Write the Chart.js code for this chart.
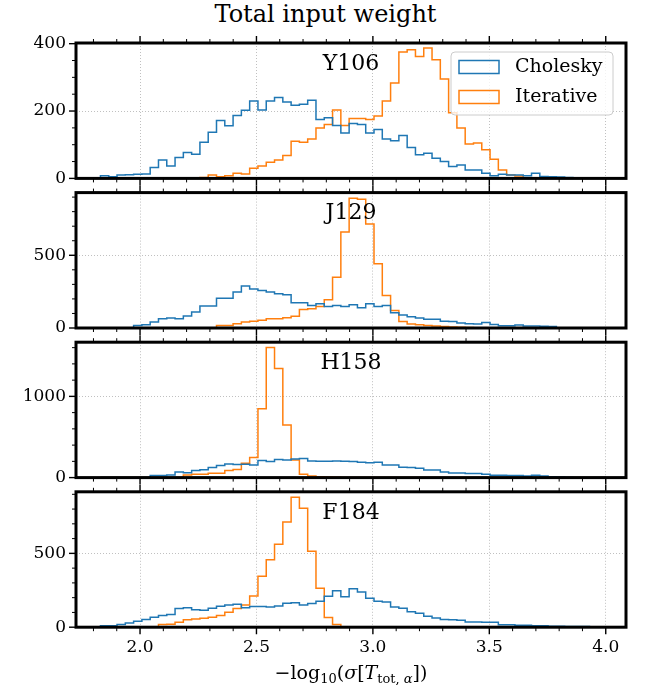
<!DOCTYPE html>
<html>
<head>
<meta charset="utf-8">
<script src="https://cdn.jsdelivr.net/npm/chart.js@4.4.1/dist/chart.umd.min.js"></script>
<style>
  body { margin: 0; background: #fff; width: 651px; height: 685px; position: relative; overflow: hidden; font-family: "DejaVu Serif", serif; }
  canvas { position: absolute; left: 0; }
  #title { position: absolute; left: 0; top: 0; width: 651px; text-align: center; font-size: 24px; line-height: 28px; }
  #xlabel { position: absolute; left: 76px; width: 550px; top: 661px; text-align: center; font-size: 19px; line-height: 22px; }
  #xlabel sub { font-size: 13px; vertical-align: -4px; line-height: 0; }
</style>
</head>
<body>
<div id="title">Total input weight</div>
<canvas id="p0"></canvas>
<canvas id="p1"></canvas>
<canvas id="p2"></canvas>
<canvas id="p3"></canvas>
<div id="xlabel">&minus;log<sub>10</sub>(<i>&sigma;</i>[<i>T</i><sub>tot, <i>&alpha;</i></sub>])</div>

<script>
// histogram bins shared by every panel
const binStart = 1.83;
const binWidth = 0.0356;

const panelNames = ["Y106", "J129", "H158", "F184"];
const seriesNames = ["Cholesky", "Iterative"];

const xTicks = [2.0, 2.5, 3.0, 3.5, 4.0];
const yTicksY106 = [0, 200, 400];
const yTicksJ129 = [0, 500];
const yTicksH158 = [0, 1000];
const yTicksF184 = [0, 500];

const choleskyY106 = [8,5,10,11,12,13,32,55,37,62, 77,72,107,137,172,156,187,202,230,203,
  230,240,227,217,220,232,175,180,157,135, 163,160,135,145,117,112,127,92,70,75,
  60,50,35,40,25,25,15,8,12,10, 10,8,15,6,5,4,3,2,2,1,1];
const iterativeY106 = [0,0,0,0,0,0,0,1,1,2, 2,2,3,10,5,8,15,13,30,37,
  48,55,68,110,107,117,150,160,203,157, 178,178,175,185,230,283,375,382,362,387,
  352,295,195,150,102,105,85,57,25,10, 7,0,0,0,0,0,0,0,0,0,0];

const choleskyJ129 = [0,0,0,0,18,23,41,64,68,64, 82,110,151,151,205,205,247,288,269,258,
  247,235,228,174,174,155,167,148,155,148, 160,139,167,148,155,105,90,77,68,60,
  60,46,44,34,30,28,37,24,15,15, 20,14,13,12,11,0,0,0,0,0,0];
const iterativeJ129 = [0,0,0,0,0,0,0,0,0,0, 0,0,0,0,18,18,30,41,46,53,
  64,64,71,80,127,132,148,195,349,660, 892,886,715,441,224,121,45,28,23,18,
  14,10,7,5,3,0,0,0,0,0, 0,0,0,0,0,0,0,0,0,0,0];

const choleskyH158 = [0,0,0,0,0,0,25,25,33,70, 61,86,98,123,148,168,160,164,155,209,
  197,223,217,228,234,205,200,200,205,201, 197,189,184,189,156,156,127,123,115,94,
  94,70,57,57,49,49,41,29,29,25, 25,20,29,20,12,8,4,0,0,0,0];
const iterativeH158 = [0,0,0,0,0,0,0,0,0,0, 33,41,41,53,53,86,100,176,248,848,
  1602,1344,647,217,41,20,10,6,4,0, 0,0,0,0,0,0,0,0,0,0,
  0,0,0,0,0,0,0,0,0,0, 0,0,0,0,0,0,0,0,0,0,0];

const choleskyF184 = [9,9,18,29,41,52,68,79,86,126, 131,119,114,128,142,150,156,131,140,140,
  137,143,162,166,150,161,176,209,247,207, 261,238,196,176,170,137,128,104,95,74,
  63,52,50,47,36,36,34,34,16,16, 14,14,9,9,7,6,5,5,4,3,2];
const iterativeF184 = [0,0,0,0,0,0,0,18,20,34, 50,56,60,68,80,102,127,150,212,345,
  457,561,712,880,806,515,263,65,18,0, 0,0,0,0,0,0,0,0,0,0,
  0,0,0,0,0,0,0,0,0,0, 0,0,0,0,0,0,0,0,0,0,0];

const panels = [
  { cholesky: choleskyY106, iterative: iterativeY106, yTicks: yTicksY106, yMax: 402, minor: 50 },
  { cholesky: choleskyJ129, iterative: iterativeJ129, yTicks: yTicksJ129, yMax: 931, minor: 100 },
  { cholesky: choleskyH158, iterative: iterativeH158, yTicks: yTicksH158, yMax: 1667, minor: 200 },
  { cholesky: choleskyF184, iterative: iterativeF184, yTicks: yTicksF184, yMax: 917, minor: 100 }
];

const colors = ["#1f77b4", "#ff7f0e"];
const X_MIN = 1.725, X_MAX = 4.087;
const SERIF = "'DejaVu Serif', serif";

Chart.defaults.font.family = SERIF;
Chart.defaults.font.size = 17;
Chart.defaults.color = "#000";

// counts -> step outline points
function stepPoints(counts) {
  const pts = [{ x: binStart, y: 0 }];
  counts.forEach((c, i) => pts.push({ x: binStart + i * binWidth, y: c }));
  pts.push({ x: binStart + counts.length * binWidth, y: 0 });
  return pts;
}

const framePlugin = {
  id: "frame",
  afterDatasetsDraw(chart, args, opts) {
    const { ctx, chartArea: a } = chart;
    ctx.save();
    ctx.fillStyle = "#000";
    ctx.font = "22px " + SERIF;
    ctx.textAlign = "center";
    ctx.textBaseline = "middle";
    ctx.fillText(opts.name, (a.left + a.right) / 2, a.top + 21);

    if (opts.legend) {
      const bx = a.right - 175, by = a.top + 9, bw = 162, bh = 63;
      ctx.beginPath();
      ctx.roundRect(bx, by, bw, bh, 4);
      ctx.fillStyle = "rgba(255,255,255,0.8)";
      ctx.fill();
      ctx.strokeStyle = "#cccccc";
      ctx.lineWidth = 1;
      ctx.stroke();
      ctx.font = "19px " + SERIF;
      ctx.textAlign = "left";
      chart.data.datasets.forEach((ds, i) => {
        const cy = by + 15 + i * 30;
        ctx.strokeStyle = ds.borderColor;
        ctx.lineWidth = 1.5;
        ctx.strokeRect(bx + 8, cy - 6.5, 40, 13);
        ctx.fillStyle = "#000";
        ctx.fillText(ds.label, bx + 64, cy);
      });
    }
    ctx.restore();
  },
  afterDraw(chart, args, opts) {
    const { ctx, chartArea: a, scales } = chart;
    const xs = scales.x, ys = scales.y;
    ctx.save();
    ctx.strokeStyle = "#000";
    for (let v = Math.ceil(X_MIN * 10); v <= X_MAX * 10; v++) {
      const px = xs.getPixelForValue(v / 10);
      const major = v % 5 === 0;
      const len = major ? 7 : 4;
      ctx.lineWidth = major ? 1.4 : 1;
      ctx.beginPath();
      ctx.moveTo(px, a.bottom); ctx.lineTo(px, a.bottom + len);
      ctx.moveTo(px, a.top); ctx.lineTo(px, a.top - len);
      ctx.stroke();
    }
    for (let v = 0; v <= ys.max; v += opts.minor) {
      const py = ys.getPixelForValue(v);
      const major = opts.majors.includes(v);
      ctx.lineWidth = major ? 1.4 : 1;
      ctx.beginPath();
      ctx.moveTo(a.left, py); ctx.lineTo(a.left - (major ? 7 : 4), py);
      ctx.stroke();
    }
    ctx.lineWidth = 3;
    ctx.strokeRect(a.left, a.top, a.right - a.left, a.bottom - a.top);
    ctx.restore();
  }
};

const PANEL_TOP = 43, PANEL_STEP = 149.6, PANEL_H = 135.4;

panels.forEach((p, i) => {
  const isBottom = i === panels.length - 1;
  const top = PANEL_TOP + i * PANEL_STEP;
  const canvasTop = Math.floor(top) - 12;
  const padTop = top - canvasTop;
  const xAxisH = isBottom ? 45 : 12;
  const h = Math.ceil(padTop + PANEL_H + xAxisH);
  const el = document.getElementById("p" + i);
  el.width = 651; el.height = h;
  el.style.top = canvasTop + "px";
  el.style.width = "651px"; el.style.height = h + "px";

  new Chart(el, {
    type: "line",
    data: {
      datasets: [
        { label: seriesNames[0], data: stepPoints(p.cholesky), borderColor: colors[0] },
        { label: seriesNames[1], data: stepPoints(p.iterative), borderColor: colors[1] }
      ]
    },
    options: {
      responsive: false,
      animation: false,
      devicePixelRatio: 1,
      parsing: false,
      datasets: { line: { stepped: "before", borderWidth: 1.5, pointRadius: 0, fill: false, tension: 0 } },
      layout: { autoPadding: false, padding: { top: padTop, left: 0, right: 25, bottom: h - padTop - PANEL_H - xAxisH } },
      plugins: {
        legend: { display: false },
        tooltip: { enabled: false },
        frame: { name: panelNames[i], legend: i === 0, minor: p.minor, majors: p.yTicks }
      },
      scales: {
        x: {
          type: "linear", min: X_MIN, max: X_MAX,
          afterBuildTicks: s => { s.ticks = xTicks.map(v => ({ value: v })); },
          afterFit: s => { s.height = xAxisH; s.paddingLeft = 0; s.paddingRight = 0; },
          ticks: { display: isBottom, padding: 10, callback: v => v.toFixed(1), maxRotation: 0, autoSkip: false, font: { family: SERIF, size: 17 } },
          grid: { drawTicks: false, color: "#b0b0b0", lineWidth: 0.8 },
          border: { display: false, dash: [1, 2] }
        },
        y: {
          type: "linear", min: 0, max: p.yMax,
          afterBuildTicks: s => { s.ticks = p.yTicks.map(v => ({ value: v })); },
          afterFit: s => { s.width = 76; s.paddingTop = 0; s.paddingBottom = 0; },
          ticks: { padding: 10, autoSkip: false, callback: v => String(v), font: { family: SERIF, size: 17 } },
          grid: { drawTicks: false, color: "#b0b0b0", lineWidth: 0.8 },
          border: { display: false, dash: [1, 2] }
        }
      }
    },
    plugins: [framePlugin]
  });
});
</script>
</body>
</html>
